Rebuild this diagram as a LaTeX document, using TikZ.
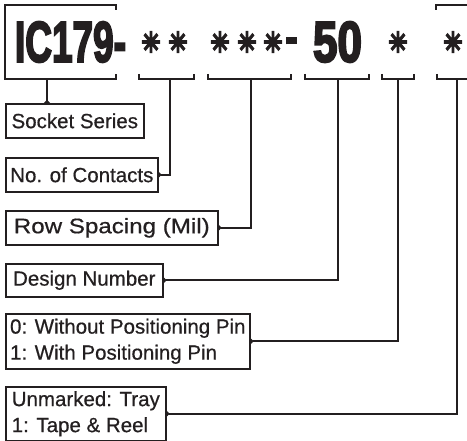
\documentclass[tikz,border=0pt]{standalone}
\usepackage{fontspec}
\setmainfont{Liberation Sans}
\newfontfamily\heavyfont{Liberation Sans Bold}[FakeBold=4]
\newfontfamily\symfont{DejaVu Sans}[FakeBold=8]
\newfontfamily\boxfont{Liberation Sans}[FakeBold=0.6]
\usetikzlibrary{arrows.meta}
\definecolor{ink}{HTML}{231F20}
\newcommand\asterk{\resizebox{19pt}{20pt}{\symfont ✳}}
\tikzset{
  ln/.style={draw=ink, line width=1.6pt},
  box/.style={draw=ink, line width=1.6pt, rectangle, anchor=north west, inner sep=0pt,
    font=\boxfont\fontsize{20.5}{26}\selectfont, text=ink},
  tip/.style={-{Triangle[reversed,length=3pt,width=6pt]}},
  big/.style={inner sep=0pt, text=ink},
  ast/.style={inner sep=0pt, text=ink}
}
\begin{document}
\begin{tikzpicture}[x=1pt,y=-1pt]
\useasboundingbox (0,0) rectangle (467,441);
% code text
\node[big] (ic) at (70.5,42) {\resizebox{111pt}{40pt}{\heavyfont IC179-}};
\node[ast] (a1) at (151,42) {\asterk};
\node[ast] (a2) at (178,42) {\asterk};
\node[ast] (b1) at (220,42) {\asterk};
\node[ast] (b2) at (247,42) {\asterk};
\node[ast] (b3) at (273,42) {\asterk};
\node[big] (dash) at (292,41) {\resizebox{11pt}{7pt}{\rule{1pt}{1pt}}};
\node[big] (n50) at (337.5,42) {\resizebox{49pt}{40pt}{\heavyfont 50}};
\node[ast] (c1) at (398,42) {\asterk};
\node[ast] (d1) at (453,42) {\asterk};
% brackets
\draw[ln] (116,10) -- (116,5) -- (5,5) -- (5,79) -- (116,79) -- (116,74);
\draw[ln] (139,74) -- (139,79) -- (194,79) -- (194,74);
\draw[ln] (208,74) -- (208,79) -- (291,79) -- (291,74);
\draw[ln] (305,74) -- (305,79) -- (369,79) -- (369,74);
\draw[ln] (382,74) -- (382,79) -- (414,79) -- (414,74);
\draw[ln] (437,74) -- (437,79) -- (467,79);
\draw[ln] (436,10) -- (436,5) -- (467,5);
\coordinate (s1) at (47,79);
\coordinate (s2) at (170,79);
\coordinate (s3) at (251,79);
\coordinate (s4) at (338,79);
\coordinate (s5) at (398,79);
\coordinate (s6) at (457,79);
% boxes
\node[box, minimum width=138pt, minimum height=34pt] (sock) at (5,103) {Socket Series};
\node[box, minimum width=152pt, minimum height=34pt] (cont) at (5,157) {No. of Contacts};
\node[box, minimum width=212pt, minimum height=34pt, font=\boxfont\fontsize{21}{26}\selectfont] (row) at (5,210) {\scalebox{1.15}[1]{Row Spacing (Mil)}};
\node[box, minimum width=157pt, minimum height=33pt] (des) at (5,263) {Design Number};
\node[box, minimum width=244pt, minimum height=55pt, align=left] (pin) at (5,313) {0: Without Positioning Pin\\1: With Positioning Pin};
\node[box, minimum width=160pt, minimum height=54pt, align=left] (tray) at (5,386) {Unmarked: Tray\\1: Tape \& Reel};
% connectors
\draw[ln,tip] (s1) -- (s1 |- sock.north);
\draw[ln,tip] (s2) |- (cont.east);
\draw[ln,tip] (s3) |- (row.east);
\draw[ln,tip] (s4) |- (des.east);
\draw[ln,tip] (s5) |- (pin.east);
\draw[ln,tip] (s6) |- (tray.east);
\end{tikzpicture}
\end{document}
